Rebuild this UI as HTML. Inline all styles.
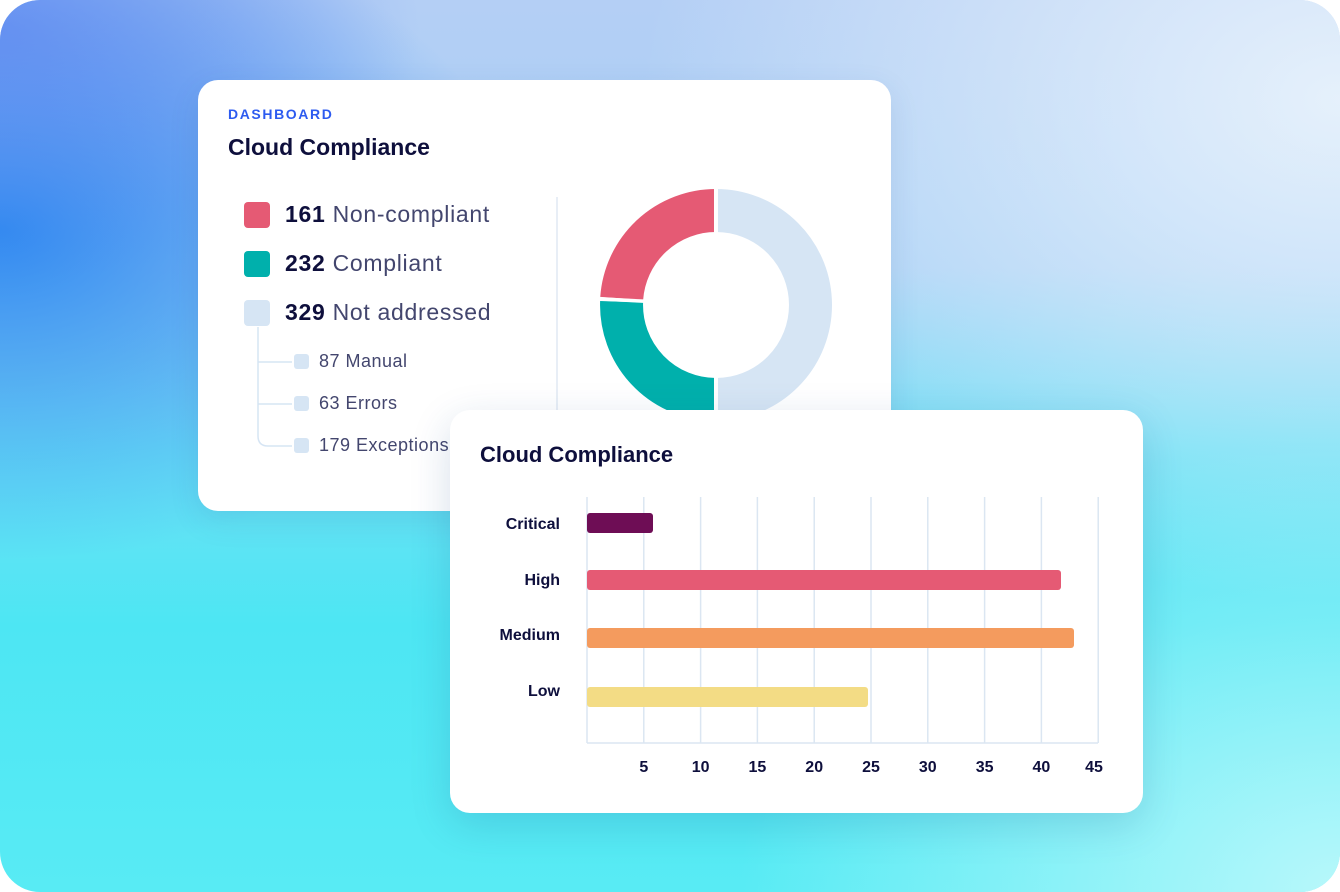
<!DOCTYPE html>
<html><head><meta charset="utf-8"><style>
*{margin:0;padding:0;box-sizing:border-box}
body{width:1340px;height:892px;background:#fff;font-family:"Liberation Sans",sans-serif;overflow:hidden;position:relative}
#bg{position:absolute;left:0;top:0;width:1340px;height:892px;border-radius:40px;overflow:hidden;
background:linear-gradient(180deg,#b4cff5 0%,#a8d0f6 30%,#6fe0f5 50%,#4de6f3 70%,#58ebf4 100%);}
.ov{position:absolute;inset:0}
.card{position:absolute;background:#fff;border-radius:20px}
.t{position:absolute;white-space:nowrap}
.sq{position:absolute;border-radius:4px}
</style></head><body>
<div id="bg">
<div class="ov" style="background:radial-gradient(ellipse 520px 330px at 0px 230px,rgba(40,135,240,0.95),rgba(40,135,240,0) 100%)"></div>
<div class="ov" style="background:radial-gradient(ellipse 420px 250px at 0px 30px,rgba(90,130,240,0.7),rgba(90,130,240,0) 100%)"></div>
<div class="ov" style="background:radial-gradient(ellipse 700px 500px at 1340px 100px,rgba(235,244,252,0.9),rgba(235,244,252,0) 100%)"></div>
<div class="ov" style="background:radial-gradient(ellipse 600px 450px at 1340px 892px,rgba(200,250,252,0.85),rgba(200,250,252,0) 100%)"></div>
</div>

<div class="card" style="left:198px;top:80px;width:693px;height:431px;box-shadow:0 10px 30px rgba(40,80,150,0.12)"></div>
<div class="t" style="left:228px;top:106px;font-size:14px;font-weight:bold;letter-spacing:1.6px;color:#2d5bf0">DASHBOARD</div>
<div class="t" style="left:228px;top:134px;font-size:23px;font-weight:bold;color:#0e0f3c">Cloud Compliance</div>

<div class="sq" style="left:244px;top:202px;width:26px;height:26px;background:#e55a74"></div>
<div class="sq" style="left:244px;top:251px;width:26px;height:26px;background:#00b0ac"></div>
<div class="sq" style="left:244px;top:300px;width:26px;height:26px;background:#d6e5f4"></div>
<div class="t" style="left:285px;top:201px;font-size:23px;letter-spacing:0.7px;color:#43466e"><b style="color:#0e0f3c">161</b> Non-compliant</div>
<div class="t" style="left:285px;top:250px;font-size:23px;letter-spacing:0.7px;color:#43466e"><b style="color:#0e0f3c">232</b> Compliant</div>
<div class="t" style="left:285px;top:299px;font-size:23px;letter-spacing:0.7px;color:#43466e"><b style="color:#0e0f3c">329</b> Not addressed</div>
<svg style="position:absolute;left:0;top:0" width="1340" height="892">
<path d="M258 327 V436 Q258 446 268 446 H292 M258 362 H292 M258 404 H292" fill="none" stroke="#d6e5f4" stroke-width="1.5"/>
<line x1="557" y1="197" x2="557" y2="420" stroke="#e1e9f3" stroke-width="1.5"/>
<path d="M716,210.5 A94.5 94.5 0 0 1 716,399.5" fill="none" stroke="#d6e5f4" stroke-width="43"/>
<path d="M716,399.5 A94.5 94.5 0 0 1 621.6,301.7" fill="none" stroke="#00b0ac" stroke-width="43"/>
<path d="M621.7,298.4 A94.5 94.5 0 0 1 716,210.5" fill="none" stroke="#e55a74" stroke-width="43"/>
<line x1="716" y1="185" x2="716" y2="425" stroke="#fff" stroke-width="4"/>
<line x1="648" y1="301.4" x2="592" y2="298.5" stroke="#fff" stroke-width="3.5"/>
</svg>
<div class="sq" style="left:294px;top:354px;width:15px;height:15px;background:#d6e5f4;border-radius:3px"></div>
<div class="sq" style="left:294px;top:396px;width:15px;height:15px;background:#d6e5f4;border-radius:3px"></div>
<div class="sq" style="left:294px;top:438px;width:15px;height:15px;background:#d6e5f4;border-radius:3px"></div>
<div class="t" style="left:319px;top:351px;font-size:18px;letter-spacing:0.5px;color:#43466e">87 Manual</div>
<div class="t" style="left:319px;top:393px;font-size:18px;letter-spacing:0.5px;color:#43466e">63 Errors</div>
<div class="t" style="left:319px;top:435px;font-size:18px;letter-spacing:0.5px;color:#43466e">179 Exceptions</div>

<div class="card" style="left:450px;top:410px;width:693px;height:403px;box-shadow:0 12px 40px rgba(30,80,140,0.18)"></div>
<div class="t" style="left:480px;top:442px;font-size:22px;font-weight:bold;color:#0e0f3c">Cloud Compliance</div>
<svg style="position:absolute;left:0;top:0" width="1340" height="892">
<g stroke="#dbe6f2" stroke-width="1.5">
<line x1="643.8" y1="497" x2="643.8" y2="743"/><line x1="700.6" y1="497" x2="700.6" y2="743"/>
<line x1="757.4" y1="497" x2="757.4" y2="743"/><line x1="814.2" y1="497" x2="814.2" y2="743"/>
<line x1="871" y1="497" x2="871" y2="743"/><line x1="927.8" y1="497" x2="927.8" y2="743"/>
<line x1="984.6" y1="497" x2="984.6" y2="743"/><line x1="1041.4" y1="497" x2="1041.4" y2="743"/>
<line x1="1098.2" y1="497" x2="1098.2" y2="743"/>
<line x1="587" y1="497" x2="587" y2="743"/><line x1="587" y1="743" x2="1098" y2="743"/>
</g>
<rect x="587" y="513" width="66" height="20" rx="3" fill="#6e0d55"/>
<rect x="587" y="570" width="474" height="20" rx="3" fill="#e55a74"/>
<rect x="587" y="628" width="487" height="20" rx="3" fill="#f49b5e"/>
<rect x="587" y="687" width="281" height="20" rx="3" fill="#f3dc85"/>
<g font-family="Liberation Sans" font-weight="bold" font-size="16" fill="#0e0f3c" text-anchor="end">
<text x="560" y="529">Critical</text><text x="560" y="585">High</text>
<text x="560" y="640">Medium</text><text x="560" y="696">Low</text>
</g>
<g font-family="Liberation Sans" font-weight="bold" font-size="16" fill="#0e0f3c" text-anchor="middle">
<text x="643.8" y="772">5</text><text x="700.6" y="772">10</text><text x="757.4" y="772">15</text>
<text x="814.2" y="772">20</text><text x="871" y="772">25</text><text x="927.8" y="772">30</text>
<text x="984.6" y="772">35</text><text x="1041.4" y="772">40</text><text x="1094" y="772">45</text>
</g>
</svg>
</body></html>
